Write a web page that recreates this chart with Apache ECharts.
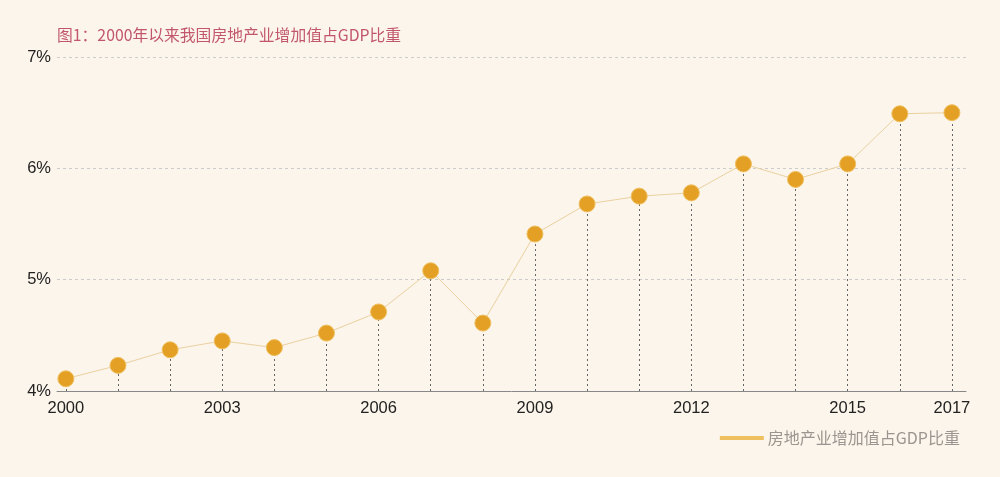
<!DOCTYPE html>
<html>
<head>
<meta charset="utf-8">
<script src="https://cdn.jsdelivr.net/npm/echarts@6/dist/echarts.min.js"></script>
<style>
html,body{margin:0;padding:0;background:#fcf5eb;}
#c{width:1000px;height:477px;}
</style>
</head>
<body>
<div id="c"></div>
<script>
const years = [2000,2001,2002,2003,2004,2005,2006,2007,2008,2009,2010,2011,2012,2013,2014,2015,2016,2017];
const shares = [4.11,4.23,4.37,4.45,4.39,4.52,4.71,5.08,4.61,5.41,5.68,5.75,5.78,6.04,5.90,6.04,6.49,6.50];
const xTickLabels = [2000,2003,2006,2009,2012,2015,2017];
const seriesName = '房地产业增加值占GDP比重';
const titleText = '图1：2000年以来我国房地产业增加值占GDP比重';

const font = 'Liberation Sans, "Noto Sans CJK SC", sans-serif';
const chart = echarts.init(document.getElementById('c'));
const dropLines = years.map((y, i) => [{coord: [y, 4]}, {coord: [y, shares[i]]}]);

chart.setOption({
  animation: false,
  backgroundColor: '#fcf5eb',
  title: {
    text: titleText,
    left: 52, top: 22,
    textStyle: {color: '#c2576c', fontSize: 15.8, fontWeight: 'normal', fontFamily: '"Noto Sans CJK SC", sans-serif'}
  },
  legend: {
    right: 35, top: 425,
    icon: 'rect', itemWidth: 42, itemHeight: 2, itemGap: 8,
    textStyle: {color: '#9a9590', fontSize: 16, fontFamily: '"Noto Sans CJK SC", sans-serif'},
    data: [{name: seriesName, itemStyle: {color: '#dcaa48'}}]
  },
  grid: {left: 57, right: 34, top: 57, bottom: 86},
  xAxis: {
    type: 'value',
    min: 1999.83, max: 2017.27,
    axisLine: {show: true, lineStyle: {color: '#888', width: 1}},
    axisTick: {show: false},
    splitLine: {show: false},
    axisLabel: {
      customValues: xTickLabels,
      color: '#222', fontSize: 16.5, fontFamily: font, margin: 9,
      formatter: v => String(v)
    }
  },
  yAxis: {
    type: 'value', min: 4, max: 7, interval: 1,
    axisLine: {show: false},
    axisTick: {show: false},
    splitLine: {lineStyle: {color: '#ccc', type: [3, 3]}},
    axisLabel: {color: '#222', fontSize: 16.5, fontFamily: font, margin: 6, formatter: '{value}%'}
  },
  series: [{
    name: seriesName,
    type: 'line',
    data: years.map((y, i) => [y, shares[i]]),
    symbol: 'circle', symbolSize: 16,
    itemStyle: {color: '#e4a025', borderColor: '#efc060', borderWidth: 1},
    lineStyle: {color: '#ead1a0', width: 1},
    z: 3,
    markLine: {
      silent: true,
      symbol: 'none',
      label: {show: false},
      lineStyle: {color: '#666', type: [2, 3], width: 1},
      data: dropLines,
      z: 1
    }
  }]
});
</script>
</body>
</html>
